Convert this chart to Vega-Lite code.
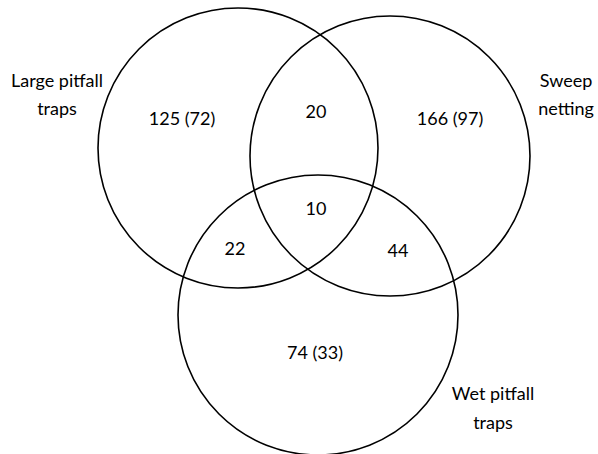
{
  "$schema": "https://vega.github.io/schema/vega-lite/v6.json",
  "width": 598,
  "height": 454,
  "padding": 0,
  "autosize": {"type": "none"},
  "background": "white",
  "config": {"view": {"stroke": null}},
  "datasets": {
    "sets": [
      {"set": "Large pitfall traps", "cx": 238, "cy": 148},
      {"set": "Sweep netting", "cx": 390, "cy": 156},
      {"set": "Wet pitfall traps", "cx": 318, "cy": 315}
    ],
    "regions": [
      {"region": "Large pitfall only", "label": "125 (72)", "x": 182, "y": 120},
      {"region": "Large pitfall & Sweep", "label": "20", "x": 316, "y": 113},
      {"region": "Sweep only", "label": "166 (97)", "x": 450, "y": 120},
      {"region": "All three", "label": "10", "x": 316, "y": 210},
      {"region": "Large pitfall & Wet", "label": "22", "x": 235, "y": 250},
      {"region": "Sweep & Wet", "label": "44", "x": 398, "y": 252},
      {"region": "Wet only", "label": "74 (33)", "x": 315, "y": 354}
    ],
    "names": [
      {"line": "Large pitfall", "x": 57, "y": 82},
      {"line": "traps", "x": 57, "y": 110},
      {"line": "Sweep", "x": 566, "y": 82},
      {"line": "netting", "x": 566, "y": 110},
      {"line": "Wet pitfall", "x": 493, "y": 395},
      {"line": "traps", "x": 493, "y": 424}
    ]
  },
  "layer": [
    {
      "data": {"name": "sets"},
      "mark": {"type": "point", "shape": "circle", "size": 78400, "filled": false, "stroke": "black", "strokeWidth": 1.6, "opacity": 1},
      "encoding": {
        "x": {"field": "cx", "type": "quantitative", "scale": {"domain": [0, 598], "nice": false, "zero": false}, "axis": null},
        "y": {"field": "cy", "type": "quantitative", "scale": {"domain": [0, 454], "nice": false, "zero": false, "reverse": true}, "axis": null}
      }
    },
    {
      "data": {"name": "regions"},
      "mark": {"type": "text", "font": "Lato", "fontSize": 18, "color": "black", "align": "center", "baseline": "middle"},
      "encoding": {
        "x": {"field": "x", "type": "quantitative", "scale": {"domain": [0, 598], "nice": false, "zero": false}, "axis": null},
        "y": {"field": "y", "type": "quantitative", "scale": {"domain": [0, 454], "nice": false, "zero": false, "reverse": true}, "axis": null},
        "text": {"field": "label"}
      }
    },
    {
      "data": {"name": "names"},
      "mark": {"type": "text", "font": "Lato", "fontSize": 18, "color": "black", "align": "center", "baseline": "middle"},
      "encoding": {
        "x": {"field": "x", "type": "quantitative", "scale": {"domain": [0, 598], "nice": false, "zero": false}, "axis": null},
        "y": {"field": "y", "type": "quantitative", "scale": {"domain": [0, 454], "nice": false, "zero": false, "reverse": true}, "axis": null},
        "text": {"field": "line"}
      }
    }
  ]
}
